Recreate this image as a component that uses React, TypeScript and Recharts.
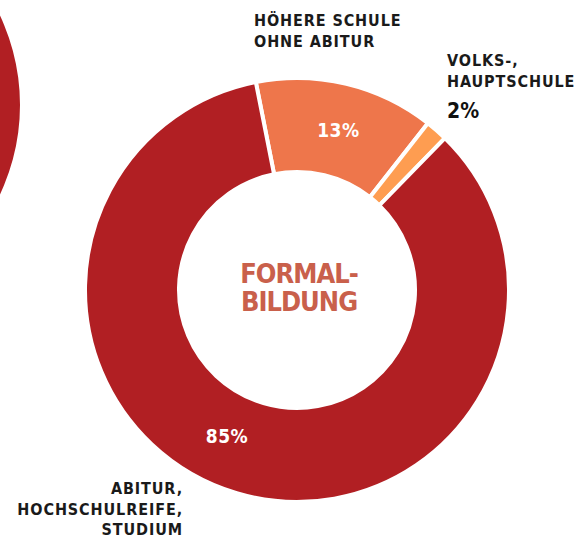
import { PieChart, Pie, Cell } from "recharts";

// slice sizes as drawn (percent), clockwise from the top-left seam
const categories = ["HÖHERE SCHULE|OHNE ABITUR", "VOLKS-,|HAUPTSCHULE", "ABITUR,|HOCHSCHULREIFE,|STUDIUM"];
const shares = [13.7, 1.7, 84.6];
const shareLabels = ["13%", "2%", "85%"];
const sliceColors = ["#EE764B", "#FE9D51", "#B11F23"];
const centerTitle = ["FORMAL-", "BILDUNG"];

// neighbouring chart cut off at the left edge
const neighbourShares = [100];

const data = categories.map((name, i) => ({ name, value: shares[i], label: shareLabels[i] }));
const neighbour = neighbourShares.map((value) => ({ name: "other", value }));

const RAD = Math.PI / 180;
const FONT = "'DejaVu Sans Condensed', 'DejaVu Sans', sans-serif";

// where each category caption sits, relative to the pie centre
const captionLayout = [
  { dx: -43, dy: -264, anchor: "start" },
  { dx: 150, dy: -224, anchor: "start" },
  { dx: -114, dy: 204, anchor: "end" },
];

function renderLabel(props: any) {
  const { cx, cy, midAngle, innerRadius, outerRadius, index } = props;
  const lay = captionLayout[index];
  const lines = categories[index].split("|");
  const txt = shareLabels[index];
  let pct: any = null;
  if (index === 0) {
    const r = (innerRadius + outerRadius) / 2;
    const x = cx + r * Math.cos(-midAngle * RAD);
    const y = cy + r * Math.sin(-midAngle * RAD);
    pct = (
      <text x={x + 3} y={y + 7} fill="#fff" textAnchor="middle" fontSize={19} fontWeight="bold" fontFamily={FONT} letterSpacing={0.5}>
        {txt}
      </text>
    );
  } else if (index === 1) {
    pct = (
      <text x={cx + lay.dx} y={cy - 172} fill="#111" fontSize={21} fontWeight="bold" fontFamily={FONT}>
        {txt}
      </text>
    );
  } else {
    pct = (
      <text x={cx - 70} y={cy + 153} fill="#fff" textAnchor="middle" fontSize={19} fontWeight="bold" fontFamily={FONT} letterSpacing={0.5}>
        {txt}
      </text>
    );
  }
  return (
    <g>
      {pct}
      {lines.map((t, i) => (
        <text
          key={t}
          x={cx + lay.dx}
          y={cy + lay.dy + i * 20.5}
          fill="#1a1a1a"
          textAnchor={lay.anchor as any}
          fontSize={16}
          fontWeight="bold"
          fontFamily={FONT}
          letterSpacing={0.9}
        >
          {t}
        </text>
      ))}
      {index === 0 &&
        centerTitle.map((t, i) => (
          <text
            key={t}
            x={cx + 2}
            y={cy - 7 + i * 28}
            fill="#C9604B"
            textAnchor="middle"
            fontSize={27}
            fontWeight="bold"
            fontFamily={FONT}
            letterSpacing={-1}
          >
            {t}
          </text>
        ))}
    </g>
  );
}

export default function App() {
  return (
    <div style={{ position: "absolute", left: 0, top: 0, width: 581, height: 539, background: "#fff" }}>
      <PieChart width={581} height={539} margin={{ top: 0, right: 0, bottom: 0, left: 0 }}>
        <Pie
          data={neighbour}
          dataKey="value"
          cx={-190}
          cy={105}
          innerRadius={120}
          outerRadius={210}
          startAngle={90}
          endAngle={-270}
          stroke="none"
          isAnimationActive={false}
        >
          <Cell fill="#B11F23" />
        </Pie>
        <Pie
          data={data}
          dataKey="value"
          cx={297}
          cy={290}
          innerRadius={118}
          outerRadius={212}
          startAngle={101.2}
          endAngle={-258.8}
          stroke="#fff"
          strokeWidth={4}
          label={renderLabel}
          labelLine={false}
          isAnimationActive={false}
        >
          {data.map((d, i) => (
            <Cell key={d.name} fill={sliceColors[i]} />
          ))}
        </Pie>
      </PieChart>
    </div>
  );
}
